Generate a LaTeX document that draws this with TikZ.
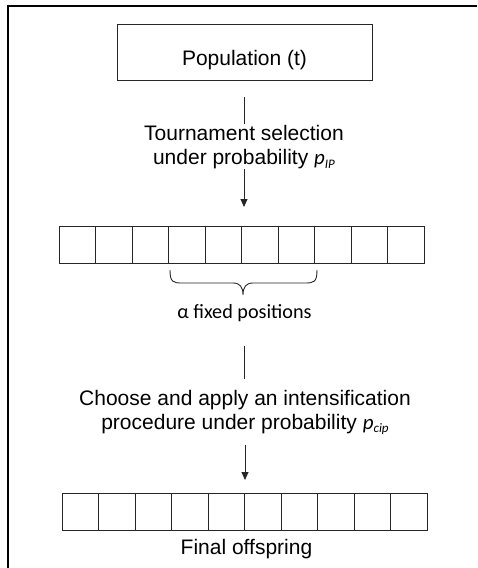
\documentclass[tikz,border=0pt]{standalone}
\usepackage{fontspec}
\setmainfont{Liberation Sans}
\newfontfamily\calib{Carlito}
\usetikzlibrary{arrows.meta}
\tikzset{
  ln/.style={line width=0.9pt, draw=black!85},
  arr/.style={ln, -{Triangle[length=8pt,width=7pt]}},
  txt/.style={inner sep=0pt, outer sep=0pt, font=\fontsize{21}{24}\selectfont},
  cell/.style={draw=black!85, line width=0.9pt, minimum width=36.5pt, minimum height=37pt, inner sep=0pt, outer sep=0pt},
  popbox/.style={draw=black!85, line width=0.9pt, minimum width=255pt, minimum height=56pt, inner sep=0pt, outer sep=0pt}
}
\newcommand{\psub}[1]{{\calib\itshape p\raisebox{-3.5pt}{\fontsize{13}{13}\selectfont #1}}}
\begin{document}
\begin{tikzpicture}[x=1pt,y=-1pt]
\useasboundingbox (0,0) rectangle (477,568);
% frame
\draw[line width=1.2pt] (8,568) -- (8,6) -- (477,6);
% population
\node[popbox] (pop) at (244.5,52) {};
\node[txt, anchor=base] (poptxt) at (244.5,65) {Population (t)};
% first text
\node[txt, anchor=base] (t1) at (244,140) {Tournament selection};
\node[txt, anchor=base] (t2) at (244,164.5) {under probability \psub{IP}};
% array 1
\foreach \i in {1,...,10}
  \node[cell] (a\i) at ({59+36.5*(\i-0.5)},244.5) {};
% array 2
\foreach \i in {1,...,10}
  \node[cell] (b\i) at ({62+36.5*(\i-0.5)},511.5) {};
% brace
\draw[ln] (170,270) .. controls (170,282) and (173,283) .. (182,283) -- (233,283)
  .. controls (240,283) and (243,287) .. (243,295)
  .. controls (243,287) and (246,283) .. (253,283) -- (305,283)
  .. controls (314,283) and (317,282) .. (317,270);
\node[inner sep=0pt, outer sep=0pt, anchor=base, font=\calib\fontsize{20.2}{24}\selectfont] (al) at (244.5,318.5) {α fixed positions};
% second text
\node[txt, anchor=base] (c1) at (245,405) {Choose and apply an intensification};
\node[txt, anchor=base] (c2) at (245,429) {procedure under probability \psub{cip}};
\node[txt, anchor=base] (fin) at (246.5,554) {Final offspring};
% connectors
\draw[ln, shorten <=17pt, shorten >=1pt] (pop.south) -- (pop.south |- t1.north);
\draw[arr, shorten <=0pt, shorten >=19pt] (t2.south) -- (t2.south |- a1.north);
\draw[ln, shorten <=24pt, shorten >=11pt] (al.south) -- (al.south |- c1.north);
\draw[arr, shorten <=10pt, shorten >=13pt] (c2.south) -- (c2.south |- b1.north);
\end{tikzpicture}
\end{document}
